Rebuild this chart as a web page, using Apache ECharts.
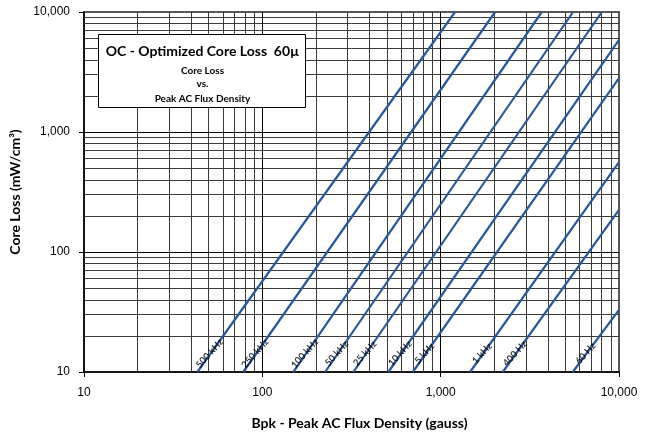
<!DOCTYPE html>
<html>
<head>
<meta charset="utf-8">
<script src="https://cdn.jsdelivr.net/npm/echarts@6/dist/echarts.min.js"></script>
<style>html,body{margin:0;padding:0;background:#fff}#c{width:653px;height:438px}</style>
</head>
<body>
<div id="c"></div>
<script>
// ---- data ----
const freqLabels = ['500 kHz','250 kHz','100 kHz','50 kHz','25 kHz','10 kHz','5 kHz','1 kHz','400 Hz','60 Hz'];
// flux density (gauss) where each curve crosses 10 mW/cm³
const startFlux = [43.2, 78.2, 149, 225, 324, 509, 698, 1462, 2230, 5507];
const startLoss = [10, 10, 10, 10, 10, 10, 10, 10, 10, 10];
// end point of each curve (top edge or right edge of the chart)
const endFlux = [1204, 2019, 3690, 5528, 8010, 10000, 10000, 10000, 10000, 10000];
const endLoss = [10000, 10000, 10000, 10000, 10000, 5844, 2818, 562, 224, 32.9];
// loss level at which the frequency labels sit
const labelLoss = 16;
const xTicks = [10, 100, 1000, 10000];
const yTicks = [10, 100, 1000, 10000];
const minorMult = [2, 3, 4, 5, 6, 7, 8, 9];

const blue = '#28579a';
const fmt = v => Number(v).toLocaleString('en-US');

const series = [];
freqLabels.forEach((name, i) => {
  series.push({
    type: 'line', name: name, showSymbol: false, symbol: 'none', silent: true,
    lineStyle: {color: blue, width: 2.2}, z: 5,
    data: [[startFlux[i], startLoss[i]], [endFlux[i], endLoss[i]]]
  });
});
// labels along each curve (position computed on the curve itself)
const labelData = freqLabels.map((name, i) => {
  const slope = Math.log(endLoss[i] / startLoss[i]) / Math.log(endFlux[i] / startFlux[i]);
  const b = startFlux[i] * Math.pow(labelLoss / startLoss[i], 1 / slope);
  return {value: [b, labelLoss], name: name};
});
series.push({
  type: 'scatter', symbolSize: 0, silent: true, z: 6,
  data: labelData,
  label: {show: true, position: 'inside', formatter: p => p.name, rotate: 48, offset: [-8, 0],
    fontFamily: 'Lato', fontWeight: 'bold', fontSize: 9.5, color: '#000'}
});
// grid lines
const xMinor = [], yMinor = [];
[10, 100, 1000].forEach(d => minorMult.forEach(m => { xMinor.push(d * m); yMinor.push(d * m); }));
series.push({
  type: 'line', data: [], silent: true, z: 1,
  markLine: {
    silent: true, symbol: 'none', label: {show: false}, animation: false,
    data: [
      ...xMinor.map(v => ({xAxis: v, lineStyle: {color: '#3a3a3a', width: 1, type: 'solid'}})),
      ...yMinor.map(v => ({yAxis: v, lineStyle: {color: '#3a3a3a', width: 1, type: 'solid'}})),
      ...[100, 1000].map(v => ({xAxis: v, lineStyle: {color: '#000', width: 1, type: 'solid'}})),
      ...[100, 1000].map(v => ({yAxis: v, lineStyle: {color: '#000', width: 1, type: 'solid'}}))
    ]
  }
});

const chart = echarts.init(document.getElementById('c'), null, {renderer: 'canvas'});
chart.setOption({
  animation: false,
  backgroundColor: '#fff',
  grid: {left: 84, right: 34, top: 12, bottom: 66, show: true, borderColor: '#222', borderWidth: 1.5, backgroundColor: 'transparent'},
  xAxis: {
    type: 'log', logBase: 10, min: 10, max: 10000,
    name: 'Bpk - Peak AC Flux Density (gauss)', nameLocation: 'middle', nameGap: 44,
    nameTextStyle: {fontFamily: 'Lato', fontWeight: 'bold', fontSize: 14, color: '#000', padding: [0, 0, 0, 16]},
    axisLine: {lineStyle: {color: '#000', width: 1.5}},
    axisTick: {show: true, length: 5, lineStyle: {color: '#000'}},
    axisLabel: {margin: 15, fontFamily: 'Liberation Sans', fontSize: 12, color: '#000', formatter: fmt},
    splitLine: {show: false}, minorTick: {show: false}
  },
  yAxis: {
    type: 'log', logBase: 10, min: 10, max: 10000,
    name: 'Core Loss (mW/cm³)', nameLocation: 'middle', nameGap: 56,
    nameTextStyle: {fontFamily: 'Lato', fontWeight: 'bold', fontSize: 14, color: '#000'},
    axisLine: {lineStyle: {color: '#000', width: 1.5}},
    axisTick: {show: true, length: 5, lineStyle: {color: '#000'}},
    axisLabel: {margin: 14, fontFamily: 'Liberation Sans', fontSize: 12, color: '#000', formatter: fmt},
    splitLine: {show: false}
  },
  graphic: [{
    type: 'group', left: 98, top: 34, z: 100, zlevel: 2,
    children: [
      {type: 'rect', z: 100, zlevel: 2, shape: {x: 0, y: 0, width: 207, height: 73}, style: {fill: '#fff', stroke: '#000', lineWidth: 1}},
      {type: 'text', z: 101, zlevel: 2, x: 104, y: 17, style: {text: 'OC - Optimized Core Loss  60µ', font: 'bold 14px Lato', fill: '#000', align: 'center', verticalAlign: 'middle'}},
      {type: 'text', z: 101, zlevel: 2, x: 104, y: 36, style: {text: 'Core Loss', font: 'bold 10px Lato', fill: '#000', align: 'center', verticalAlign: 'middle'}},
      {type: 'text', z: 101, zlevel: 2, x: 104, y: 49, style: {text: 'vs.', font: 'bold 10px Lato', fill: '#000', align: 'center', verticalAlign: 'middle'}},
      {type: 'text', z: 101, zlevel: 2, x: 104, y: 64, style: {text: 'Peak AC Flux Density', font: 'bold 10px Lato', fill: '#000', align: 'center', verticalAlign: 'middle'}}
    ]
  }],
  series: series
});
</script>
</body>
</html>
